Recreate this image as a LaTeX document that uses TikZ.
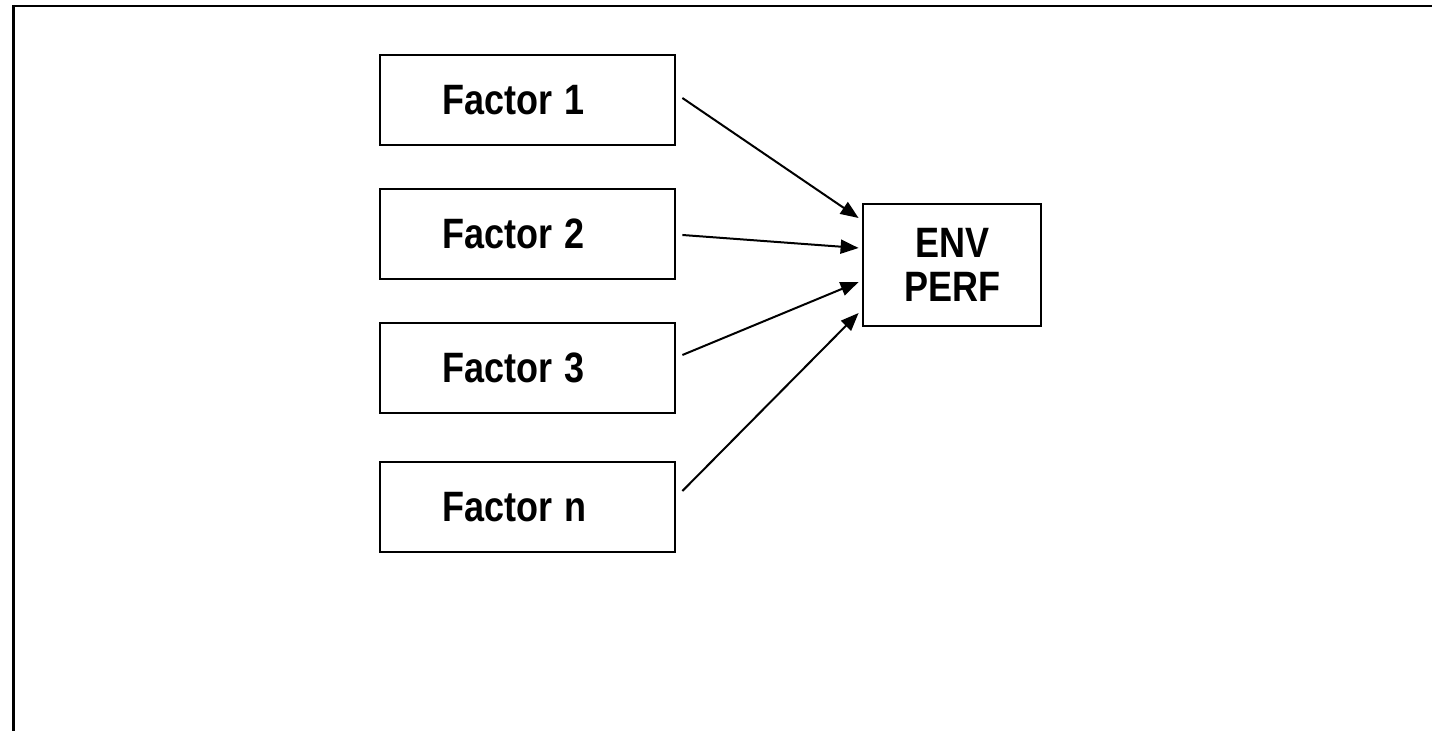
\documentclass[tikz,border=0pt]{standalone}
\usepackage{fontspec}
\usepackage{graphicx}
\setmainfont{Liberation Sans}
\usetikzlibrary{arrows.meta,calc}
\newcommand{\tallt}[1]{\scalebox{1}[1.18]{#1}}
\begin{document}
\begin{tikzpicture}[x=0.5pt,y=-0.5pt,
  fbox/.style={draw,line width=1.4pt,minimum height=45pt,inner xsep=31pt,
    text width=85.5pt,align=left,font=\bfseries\fontsize{18pt}{20pt}\selectfont},
  envbox/.style={draw,line width=1.4pt,minimum width=89pt,minimum height=61pt,
    align=center,font=\bfseries\fontsize{18pt}{22pt}\selectfont},
  conn/.style={line width=1pt,-{Triangle[length=9pt,width=7pt]}},
  frameline/.style={line width=1.3pt}]
\useasboundingbox (0,0) rectangle (1433,731);
\draw[frameline] (12,6) -- (1432,6);
\draw[frameline] (13.5,5) -- (13.5,731);
\node[fbox] (f1) at (527.5,100) {\tallt{Factor 1}};
\node[fbox] (f2) at (527.5,234) {\tallt{Factor 2}};
\node[fbox] (f3) at (527.5,368) {\tallt{Factor 3}};
\node[fbox] (fn) at (527.5,507) {\tallt{Factor n}};
\node[envbox] (env) at (952,265) {\tallt{ENV}\\\tallt{PERF}};
\draw[conn] ($(f1.east)+(6,-2)$) -- ($(env.west)+(-3,-47)$);
\draw[conn] ($(f2.east)+(6,1)$) -- ($(env.west)+(-3,-17)$);
\draw[conn] ($(f3.east)+(6,-13)$) -- ($(env.west)+(-3,17)$);
\draw[conn] ($(fn.east)+(6,-16)$) -- ($(env.west)+(-3,48)$);
\end{tikzpicture}
\end{document}
